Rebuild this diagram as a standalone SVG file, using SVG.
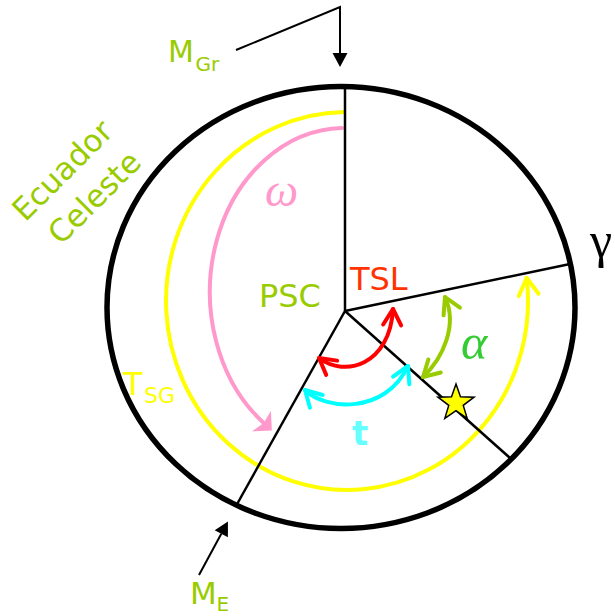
<svg xmlns="http://www.w3.org/2000/svg" width="615" height="616" viewBox="0 0 615 616">
  <style>
    .lbl { font-family: "DejaVu Sans", Verdana, sans-serif; }
    .green { fill: #99CC00; }
    .arc { fill: none; stroke-width: 4; stroke-linecap: round; }
    .blk { fill: none; stroke: #000; stroke-width: 2.5; }
    .greek { font-family: "Liberation Serif", "DejaVu Serif", serif; font-style: italic; }
  </style>
  <defs>
    <marker id="vYellow" markerUnits="userSpaceOnUse" orient="auto" refX="0" refY="0" overflow="visible">
      <path d="M -17 -10 L 0 0 L -17 10" fill="none" stroke="#FFFF00" stroke-width="4" stroke-linecap="round" stroke-linejoin="round"/>
    </marker>
    <marker id="vRed" markerUnits="userSpaceOnUse" orient="auto-start-reverse" refX="0" refY="0" overflow="visible">
      <path d="M -16 -9 L 0 0 L -16 9" fill="none" stroke="#FF0000" stroke-width="4" stroke-linecap="round" stroke-linejoin="round"/>
    </marker>
    <marker id="vCyan" markerUnits="userSpaceOnUse" orient="auto-start-reverse" refX="0" refY="0" overflow="visible">
      <path d="M -16 -9 L 0 0 L -16 9" fill="none" stroke="#00FFFF" stroke-width="4" stroke-linecap="round" stroke-linejoin="round"/>
    </marker>
    <marker id="vGreen" markerUnits="userSpaceOnUse" orient="auto-start-reverse" refX="0" refY="0" overflow="visible">
      <path d="M -16 -9 L 0 0 L -16 9" fill="none" stroke="#99CC00" stroke-width="4" stroke-linecap="round" stroke-linejoin="round"/>
    </marker>
    <marker id="fPink" markerUnits="userSpaceOnUse" orient="auto" refX="0" refY="0" overflow="visible">
      <path d="M 11 0 L -3 -14 L 0 0 L -3 14 Z" fill="#FF99CC"/>
    </marker>
    <marker id="fBlack" markerUnits="userSpaceOnUse" orient="auto" refX="0" refY="0" overflow="visible">
      <path d="M 14 0 L 0 -7.5 L 0 7.5 Z" fill="#000"/>
    </marker>
  </defs>

  <g id="celestial-sphere">
    <ellipse cx="341" cy="307.5" rx="234" ry="221" fill="#fff" stroke="#000" stroke-width="5.5"/>
  </g>

  <g id="connectors">
    <path id="tsg-arc" class="arc" stroke="#FFFF00" d="M 344 112 A 181 189 0 1 0 526.7 278" marker-end="url(#vYellow)"/>
    <path id="omega-arc" class="arc" stroke="#FF99CC" stroke-linecap="butt" d="M 342 128 A 135 164 0 0 0 263.7 423" marker-end="url(#fPink)"/>
    <g id="meridians">
      <line class="blk" x1="345" y1="311" x2="345" y2="86"/>
      <line class="blk" x1="345" y1="311" x2="570" y2="264"/>
      <line class="blk" x1="345" y1="311" x2="510" y2="458"/>
      <line class="blk" x1="345" y1="311" x2="236" y2="506"/>
    </g>
    <path id="tsl-arc" class="arc" stroke="#FF0000" d="M 319 358 C 345 378, 390 365, 393 309" marker-start="url(#vRed)" marker-end="url(#vRed)"/>
    <path id="t-arc" class="arc" stroke="#00FFFF" d="M 305 390 C 325 410, 385 415, 408 366" marker-start="url(#vCyan)" marker-end="url(#vCyan)"/>
    <path id="alpha-arc" class="arc" stroke="#99CC00" d="M 445 297 C 458 325, 443 358, 423 377" marker-start="url(#vGreen)" marker-end="url(#vGreen)"/>
    <polyline id="mgr-arrow" fill="none" stroke="#000" stroke-width="2" points="236,50 340,7 340,53" marker-end="url(#fBlack)"/>
    <line id="me-arrow" stroke="#000" stroke-width="2" x1="199" y1="575" x2="221.3" y2="533.8" marker-end="url(#fBlack)"/>
  </g>

  <g id="star">
    <polygon points="456,384 460.47,396.85 474.07,397.13 463.23,405.35 467.17,418.37 456,410.6 444.83,418.37 448.77,405.35 437.93,397.13 451.53,396.85" fill="#FFFF00" stroke="#000" stroke-width="1.5" stroke-linejoin="miter"/>
  </g>

  <g id="label-mgr" class="lbl green">
    <text x="168" y="62" font-size="30">M</text>
    <text x="195.5" y="71" font-size="20">Gr</text>
  </g>
  <g id="label-me" class="lbl green">
    <text x="190" y="604" font-size="31">M</text>
    <text x="216.5" y="611" font-size="20">E</text>
  </g>
  <g id="label-ecuador" class="lbl green" font-size="31" text-anchor="middle">
    <text x="70" y="178" transform="rotate(-45 70 178)">Ecuador</text>
    <text x="102" y="205" transform="rotate(-45 102 205)">Celeste</text>
  </g>
  <g id="label-psc" class="lbl green">
    <text x="259" y="307" font-size="32">PSC</text>
  </g>
  <g id="label-tsl" class="lbl">
    <text x="350" y="290" font-size="32" fill="#FF3300">TSL</text>
  </g>
  <g id="label-tsg" class="lbl" fill="#FFFF00">
    <text x="123" y="395" font-size="32">T</text>
    <text x="144" y="403" font-size="22">SG</text>
  </g>
  <g id="label-t" class="lbl">
    <text x="352" y="445" font-size="34" font-weight="bold" fill="#66FFFF">t</text>
  </g>
  <g id="label-omega">
    <text class="greek" x="265" y="206" font-size="47" fill="#FF99CC">ω</text>
  </g>
  <g id="label-alpha">
    <text class="greek" x="461" y="359" font-size="50" fill="#33CC33">α</text>
  </g>
  <g id="label-gamma">
    <text x="590" y="257" font-size="50" font-family="Liberation Serif, DejaVu Serif, serif" fill="#000">γ</text>
  </g>
</svg>
